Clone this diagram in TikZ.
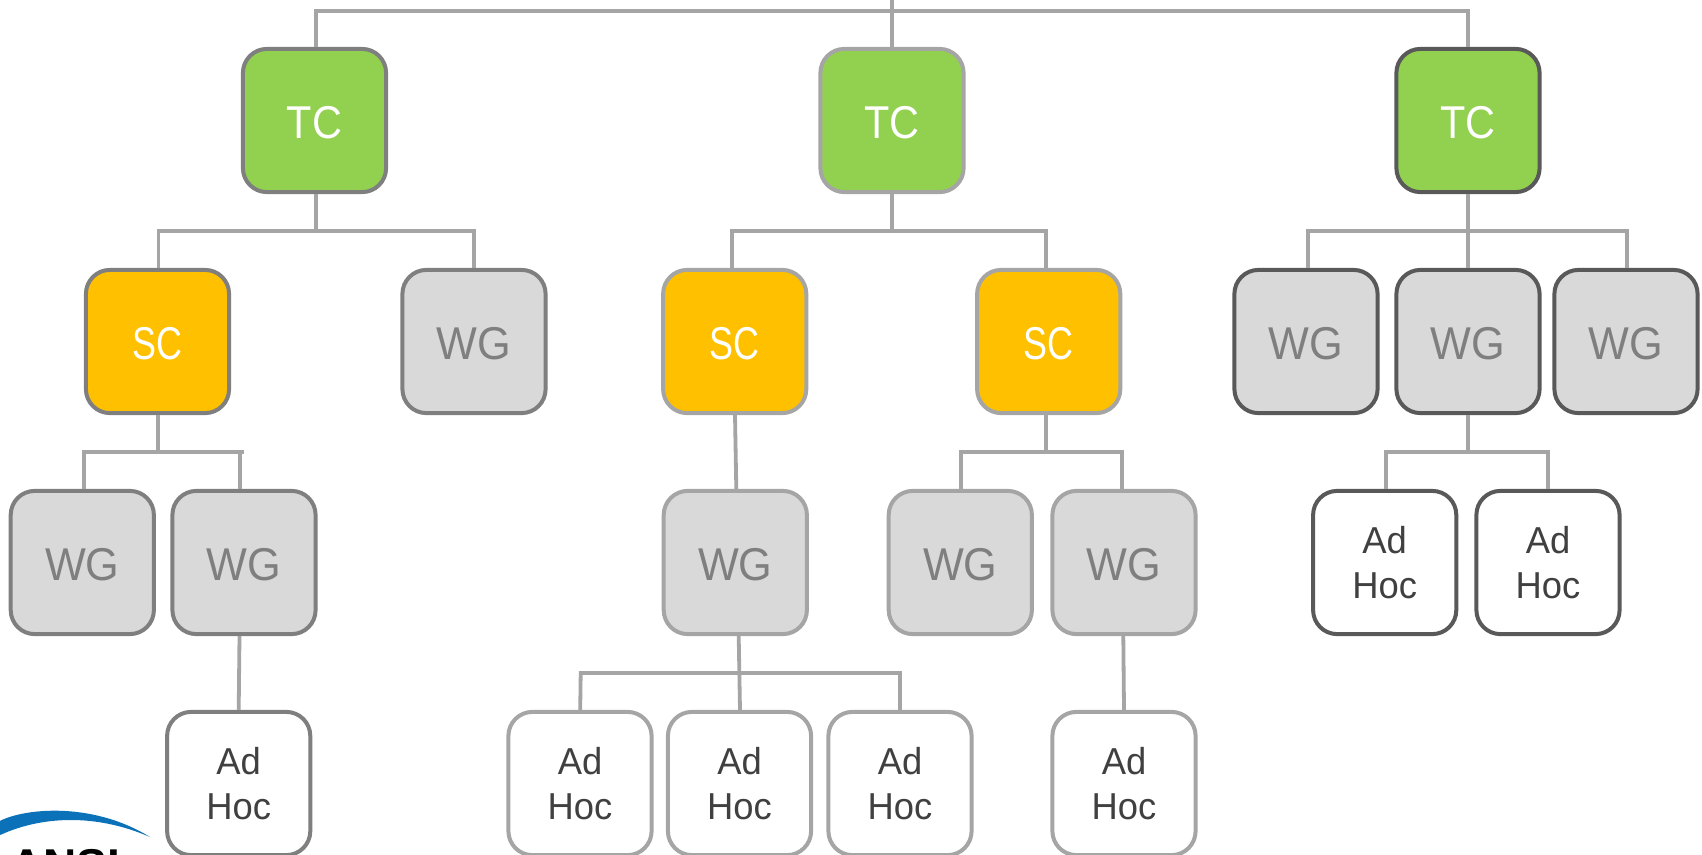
\documentclass[tikz,border=0pt]{standalone}
\usepackage{fontspec}
\setmainfont{Liberation Sans}
\newfontfamily\tcfont[FakeStretch=0.90]{Liberation Sans}
\newfontfamily\scfont[FakeStretch=0.78]{Liberation Sans}
\newfontfamily\wgfont[FakeStretch=0.94]{Liberation Sans}
\newfontfamily\ahfont[FakeStretch=0.97]{Liberation Sans}
\definecolor{conn}{HTML}{A5A5A5}
\definecolor{edgeA}{HTML}{7F7F7F}
\definecolor{edgeB}{HTML}{A5A5A5}
\definecolor{edgeC}{HTML}{595959}
\definecolor{tcfill}{HTML}{92D050}
\definecolor{scfill}{HTML}{FFC000}
\definecolor{wgfill}{HTML}{D9D9D9}
\definecolor{wgtext}{HTML}{7F7F7F}
\definecolor{ahtext}{HTML}{404040}
\definecolor{logoblue}{HTML}{0B72B9}
\tikzset{
  box/.style={draw,line width=4pt,rounded corners=24pt,minimum width=143.2pt,minimum height=143.2pt,inner sep=0pt},
  bigtext/.style={text height=36pt,text depth=0pt},
  tcbox/.style={box,bigtext,font=\tcfont\fontsize{46}{46}\selectfont,fill=tcfill,text=white},
  scbox/.style={box,bigtext,font=\scfont\fontsize{46}{46}\selectfont,fill=scfill,text=white},
  wgbox/.style={box,bigtext,font=\wgfont\fontsize{46}{46}\selectfont,fill=wgfill,text=wgtext},
  ahbox/.style={box,fill=white,text=ahtext,align=center,font=\ahfont\fontsize{37.5}{45}\selectfont},
  link/.style={draw=conn,line width=3.8pt,line join=miter},
}
\begin{document}
\begin{tikzpicture}[x=1pt,y=-1pt]
\useasboundingbox (0,0) rectangle (1702,854);
% logo
\fill[logoblue] (-2,822) .. controls (20,809) and (90,800) .. (150,837) .. controls (95,813) and (40,816) .. (-2,836) -- cycle;
\begin{scope}
\clip (0,0) rectangle (1702,854);
\node[anchor=base west,inner sep=0pt,font=\bfseries\fontsize{46}{46}\selectfont,text=black] (logotext) at (10,881) {ANSI};
\end{scope}
% level 1
\node[tcbox,draw=edgeA] (tc1) at (314.5,120.5) {TC};
\node[tcbox,draw=edgeB] (tc2) at (892,120.5) {TC};
\node[tcbox,draw=edgeC] (tc3) at (1468,120.5) {TC};
% level 2
\node[scbox,draw=edgeA] (sc1) at (157.5,341.5) {SC};
\node[wgbox,draw=edgeA] (wg1) at (474,341.5) {WG};
\node[scbox,draw=edgeB] (sc2) at (734.7,341.5) {SC};
\node[scbox,draw=edgeB] (sc3) at (1048.7,341.5) {SC};
\node[wgbox,draw=edgeC] (wg2) at (1306,341.5) {WG};
\node[wgbox,draw=edgeC] (wg3) at (1468,341.5) {WG};
\node[wgbox,draw=edgeC] (wg4) at (1626,341.5) {WG};
% level 3
\node[wgbox,draw=edgeA] (wg5) at (82.3,562.5) {WG};
\node[wgbox,draw=edgeA] (wg6) at (244,562.5) {WG};
\node[wgbox,draw=edgeB] (wg7) at (735.3,562.5) {WG};
\node[wgbox,draw=edgeB] (wg8) at (960.3,562.5) {WG};
\node[wgbox,draw=edgeB] (wg9) at (1124,562.5) {WG};
\node[ahbox,draw=edgeC] (ah1) at (1384.7,562.5) {Ad\\Hoc};
\node[ahbox,draw=edgeC] (ah2) at (1548,562.5) {Ad\\Hoc};
% level 4
\node[ahbox,draw=edgeA] (ah3) at (238.7,783.5) {Ad\\Hoc};
\node[ahbox,draw=edgeB] (ah4) at (580,783.5) {Ad\\Hoc};
\node[ahbox,draw=edgeB] (ah5) at (739.5,783.5) {Ad\\Hoc};
\node[ahbox,draw=edgeB] (ah6) at (900,783.5) {Ad\\Hoc};
\node[ahbox,draw=edgeB] (ah7) at (1124,783.5) {Ad\\Hoc};
% free end at the top
\coordinate (root) at (892,0);
\coordinate (rootbus) at (892,11);
% top bus
\draw[link] (root) -- (rootbus);
\draw[link] (316,0 |- tc1.north) -- (316,11) -- (1468,11) -- (1468,0 |- tc3.north);
\draw[link] (rootbus) -- (892,0 |- tc2.north);
% TC1 tree
\draw[link] (316,0 |- tc1.south) -- (316,231);
\draw[link] (158.5,0 |- sc1.north) -- (158.5,231) -- (474,231) -- (474,0 |- wg1.north);
\draw[link] (158,0 |- sc1.south) -- (158,452);
\draw[link] (84,0 |- wg5.north) -- (84,452) -- (244,452);
\draw[link] (240,452) -- (240,0 |- wg6.north);
\draw[link] (239.5,0 |- wg6.south) -- (238.7,0 |- ah3.north);
% TC2 tree
\draw[link] (892,0 |- tc2.south) -- (892,231);
\draw[link] (732,0 |- sc2.north) -- (732,231) -- (1046,231) -- (1046,0 |- sc3.north);
\draw[link] (735,0 |- sc2.south) -- (736.3,0 |- wg7.north);
\draw[link] (738.7,0 |- wg7.south) -- (740,0 |- ah5.north);
\draw[link] (580.2,0 |- ah4.north) -- (580.7,673) -- (900,673) -- (900,0 |- ah6.north);
\draw[link] (1045.7,0 |- sc3.south) -- (1045.7,452);
\draw[link] (960.7,0 |- wg8.north) -- (960.7,452) -- (1122,452) -- (1122,0 |- wg9.north);
\draw[link] (1123.3,0 |- wg9.south) -- (1124,0 |- ah7.north);
% TC3 tree
\draw[link] (1468,0 |- tc3.south) -- (1468,0 |- wg3.north);
\draw[link] (1308,0 |- wg2.north) -- (1308,231) -- (1626.7,231) -- (1626.7,0 |- wg4.north);
\draw[link] (1468,0 |- wg3.south) -- (1468,452);
\draw[link] (1386.3,0 |- ah1.north) -- (1386.3,452) -- (1547.7,452) -- (1547.7,0 |- ah2.north);
\end{tikzpicture}
\end{document}
